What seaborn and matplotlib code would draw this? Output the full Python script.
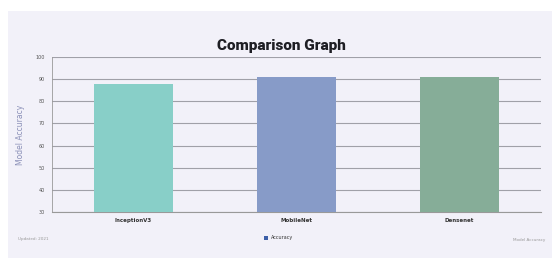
import matplotlib
matplotlib.use("Agg")
import matplotlib.pyplot as plt
from matplotlib.patches import Rectangle
import seaborn as sns
import pandas as pd

models = ["InceptionV3", "MobileNet", "Densenet"]
accuracy = [88, 91, 91]
bar_colors = ["#88cfc8", "#879bc8", "#86ad98"]
y_ticks = [30, 40, 50, 60, 70, 80, 90, 100]

sns.set_theme(style="white")
plt.rcParams['font.family'] = ['DejaVu Sans']

df = pd.DataFrame({"Model": models, "Accuracy": accuracy})

fig = plt.figure(figsize=(5.58, 2.62), dpi=100)
fig.patch.set_facecolor("white")
fig.patches.append(Rectangle((8/558, 4/262), 544/558, 247/262, transform=fig.transFigure,
                             facecolor="#f2f1f9", edgecolor="none", zorder=-10))

ax = fig.add_axes([52/558, 1 - 212/262, 489/558, 155/262])
ax.set_facecolor("#f2f1f9")
sns.barplot(data=df, x="Model", y="Accuracy", hue="Model", palette=bar_colors,
            width=0.48, legend=False, ax=ax, zorder=3, saturation=1, linewidth=0)
ax.set_ylim(30, 100)
ax.set_xlim(-0.5, 2.5)
ax.set_yticks(y_ticks)
ax.set_yticklabels([str(t) for t in y_ticks], fontsize=3.5, color="#555555")
ax.tick_params(axis="y", length=3, width=0.6, color="#888888", pad=2)
ax.tick_params(axis="x", length=0, pad=4)
for lbl in ax.get_xticklabels():
    lbl.set_fontsize(4)
    lbl.set_fontweight("bold")
    lbl.set_color("#333333")
ax.grid(axis="y", color="#a0a0a8", linewidth=0.8, zorder=0)
for s in ["top", "right"]:
    ax.spines[s].set_visible(False)
ax.spines["left"].set_color("#999999")
ax.spines["left"].set_linewidth(0.6)
ax.spines["bottom"].set_color("#999999")
ax.spines["bottom"].set_linewidth(0.8)
ax.set_xlabel("")
ax.set_ylabel("Model Accuracy", fontsize=5.5, color="#8b90b8", labelpad=8)

fig.text(281/558, 1 - 46/262, "Comparison Graph", ha="center", va="center",
         fontsize=11, fontweight="black", family=["Roboto", "DejaVu Sans"],
         color="#1e1e24")

# legend
fig.patches.append(Rectangle((264/558, 1 - 240/262), 4/558, 4/262, transform=fig.transFigure,
                             facecolor="#3c5fa8", edgecolor="none"))
fig.text(271/558, 1 - 238/262, "Accuracy", ha="left", va="center", fontsize=3.5, color="#333333")

fig.text(18/558, 1 - 239/262, "Updated: 2021", ha="left", va="center", fontsize=3, color="#999999")
fig.text(545/558, 1 - 240/262, "Model Accuracy", ha="right", va="center", fontsize=3, color="#999999")

fig.savefig("out.png", dpi=100, facecolor=fig.get_facecolor())
